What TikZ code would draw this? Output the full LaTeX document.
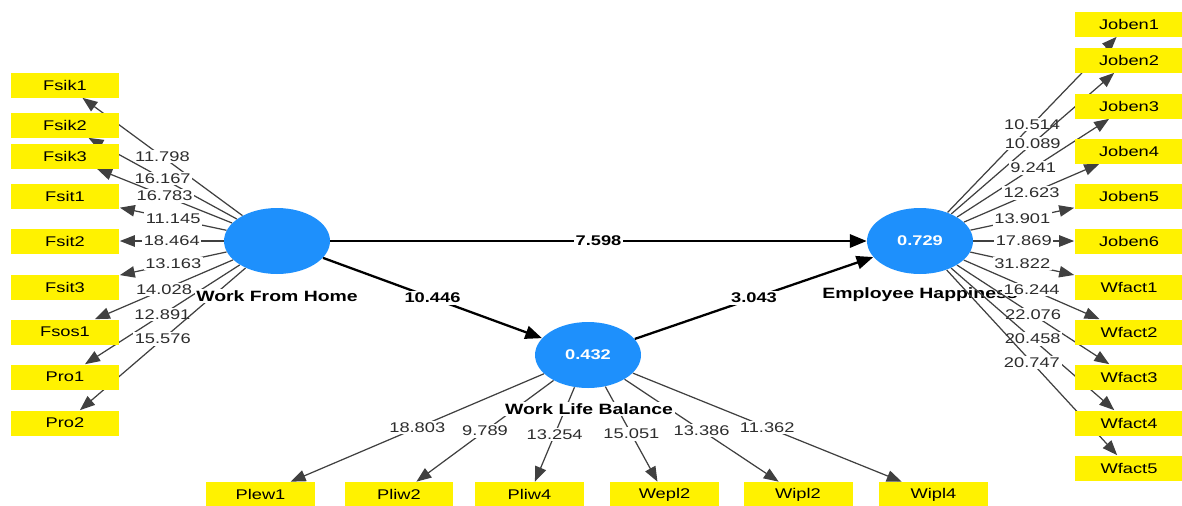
\documentclass[tikz,border=0pt]{standalone}
\usepackage{fontspec}
\setmainfont[FakeStretch=1.3]{Liberation Sans}
\usetikzlibrary{arrows.meta, shapes.geometric, positioning}
\pgfdeclarelayer{front}
\pgfsetlayers{main,front}
\definecolor{lvblue}{RGB}{30,144,252}
\definecolor{valgray}{RGB}{45,45,45}
\tikzset{
  lv/.style = {ellipse, fill=lvblue, minimum width=2.12cm, minimum height=1.32cm, inner sep=0pt, text=white, font=\fontsize{8}{9}\selectfont\bfseries},
  mv/.style = {fill=yellow, minimum width=2.18cm, minimum height=0.5cm, inner sep=0pt, font=\fontsize{8}{9}\selectfont},
  lvname/.style = {inner sep=1pt, font=\fontsize{8.5}{10}\selectfont\bfseries},
  load/.style = {draw=black!75, line width=0.7pt, -{Triangle[length=8.5pt,width=6.5pt]}},
  struct/.style = {draw=black, line width=1.3pt, -{Triangle[length=9.5pt,width=7.5pt]}},
  val/.style = {midway, fill=white, inner sep=1pt, text=valgray, font=\fontsize{8}{9}\selectfont},
  pval/.style = {midway, fill=white, inner sep=1pt, font=\fontsize{8}{9}\selectfont\bfseries}
}
\begin{document}
\begin{tikzpicture}[x=0.02cm, y=-0.02cm]
\useasboundingbox (0,0) rectangle (1182,505);
\begin{pgfonlayer}{front}
\node [lv] (wfh) at (277,241) {};
\node [lv] (wlb) at (588,355) {0.432};
\node [lv] (eh) at (920,241) {0.729};
\node [mv] (fsik1) at (65,85) {Fsik1};
\node [mv] (fsik2) at (65,125) {Fsik2};
\node [mv] (fsik3) at (65,156) {Fsik3};
\node [mv] (fsit1) at (65,196) {Fsit1};
\node [mv] (fsit2) at (65,241) {Fsit2};
\node [mv] (fsit3) at (65,287) {Fsit3};
\node [mv] (fsos1) at (65,332) {Fsos1};
\node [mv] (pro1) at (65,377) {Pro1};
\node [mv] (pro2) at (65,423) {Pro2};
\node [mv] (joben1) at (1129,24) {Joben1};
\node [mv] (joben2) at (1129,60) {Joben2};
\node [mv] (joben3) at (1129,106) {Joben3};
\node [mv] (joben4) at (1129,151) {Joben4};
\node [mv] (joben5) at (1129,196) {Joben5};
\node [mv] (joben6) at (1129,241) {Joben6};
\node [mv] (wfact1) at (1129,287) {Wfact1};
\node [mv] (wfact2) at (1129,332) {Wfact2};
\node [mv] (wfact3) at (1129,377) {Wfact3};
\node [mv] (wfact4) at (1129,423) {Wfact4};
\node [mv] (wfact5) at (1129,468) {Wfact5};
\node [mv] (plew1) at (260.5,494.5) {Plew1};
\node [mv] (pliw2) at (399,494.5) {Pliw2};
\node [mv] (pliw4) at (529.5,494.5) {Pliw4};
\node [mv] (wepl2) at (664.5,494.5) {Wepl2};
\node [mv] (wipl2) at (798,494.5) {Wipl2};
\node [mv] (wipl4) at (933.5,494.5) {Wipl4};
\end{pgfonlayer}
\node [lvname] (ehname) at (920,295) {Employee Happiness};
\draw [struct] (wfh) -- (eh) node [pval] {7.598};
\draw [struct] (wfh) -- (wlb) node [pval] {10.446};
\draw [struct] (wlb) -- (eh) node [pval] {3.043};
\draw [load] (wfh) -- (fsik1) node [val] {11.798};
\draw [load] (wfh) -- (fsik2) node [val] {16.167};
\draw [load] (wfh) -- (fsik3) node [val] {16.783};
\draw [load] (wfh) -- (fsit1) node [val] {11.145};
\draw [load] (wfh) -- (fsit2) node [val] {18.464};
\draw [load] (wfh) -- (fsit3) node [val] {13.163};
\draw [load] (wfh) -- (fsos1) node [val] {14.028};
\draw [load] (wfh) -- (pro1) node [val] {12.891};
\draw [load] (wfh) -- (pro2) node [val] {15.576};
\draw [load] (eh) -- (joben1) node [val] {10.514};
\draw [load] (eh) -- (joben2) node [val] {10.089};
\draw [load] (eh) -- (joben3) node [val] {9.241};
\draw [load] (eh) -- (joben4) node [val] {12.623};
\draw [load] (eh) -- (joben5) node [val] {13.901};
\draw [load] (eh) -- (joben6) node [val] {17.869};
\draw [load] (eh) -- (wfact1) node [val] {31.822};
\draw [load] (eh) -- (wfact2) node [val] {16.244};
\draw [load] (eh) -- (wfact3) node [val] {22.076};
\draw [load] (eh) -- (wfact4) node [val] {20.458};
\draw [load] (eh) -- (wfact5) node [val] {20.747};
\draw [load] (wlb) -- (plew1) node [val] {18.803};
\draw [load] (wlb) -- (pliw2) node [val] {9.789};
\draw [load] (wlb) -- (pliw4) node [val] {13.254};
\draw [load] (wlb) -- (wepl2) node [val] {15.051};
\draw [load] (wlb) -- (wipl2) node [val] {13.386};
\draw [load] (wlb) -- (wipl4) node [val] {11.362};
\node [lvname, fill=white] (wfhname) at (277,296) {Work From Home};
\node [lvname, fill=white] (wlbname) at (589,409) {Work Life Balance};
\end{tikzpicture}
\end{document}
